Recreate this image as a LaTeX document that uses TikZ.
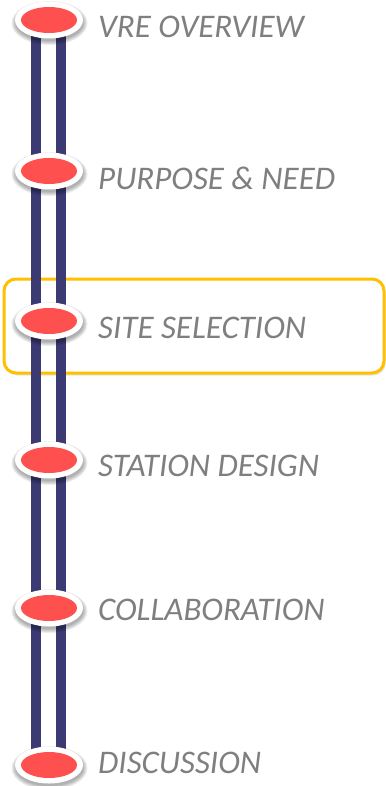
\documentclass[tikz,border=0pt]{standalone}
\usepackage{fontspec}
\setmainfont{Carlito}
\usetikzlibrary{shadows,shapes.geometric}
\definecolor{rail}{HTML}{3B3A73}
\definecolor{dot}{HTML}{FF5050}
\definecolor{hl}{HTML}{FFC000}
\definecolor{txt}{HTML}{7F7F7F}
\tikzset{
  railline/.style={rail, line width=10pt},
  stopout/.style={ellipse, fill=white, minimum width=68pt, minimum height=37pt, inner sep=0pt},
  stopin/.style={ellipse, fill=dot, minimum width=56pt, minimum height=26pt, inner sep=0pt},
  softshade/.style={ellipse, fill=black, fill opacity=0.07, inner sep=0pt},
  lbl/.style={anchor=west, text=txt, font=\fontsize{33}{33}\selectfont\itshape, inner sep=0pt},
  hlbox/.style={draw=hl, line width=3pt, rounded corners=12pt, fill=white,
     drop shadow={shadow xshift=1.5pt, shadow yshift=-2.5pt, opacity=0.2}}
}
\begin{document}
\begin{tikzpicture}[x=1pt,y=-1pt]
\useasboundingbox (0,0) rectangle (385,786);
\node[hlbox, minimum width=380pt, minimum height=94pt, anchor=north west] (box) at (2.5,277.5) {};
\coordinate (lt) at (36,30);
\coordinate (lb) at (36,760);
\coordinate (rt) at (60.5,30);
\coordinate (rb) at (60.5,760);
\draw[railline] (lt) -- (lb);
\draw[railline] (rt) -- (rb);
\foreach \n/\y/\ty/\t in {a/20/27/VRE OVERVIEW, b/171/178/PURPOSE \& NEED, c/321/328/SITE SELECTION, d/460/466/STATION DESIGN, e/608/610/COLLABORATION, f/765/763/DISCUSSION}{
  \foreach \s in {0,2,4,6,8}{
    \node[softshade, minimum width=68pt+\s pt, minimum height=36pt+\s pt] at (49.5,\y+3) {};
  }
  \node[stopout] (o\n) at (49,\y) {};
  \node[stopin] (i\n) at (49,\y) {};
  \node[lbl] (t\n) at (98,\ty) {\t};
}
\end{tikzpicture}
\end{document}
